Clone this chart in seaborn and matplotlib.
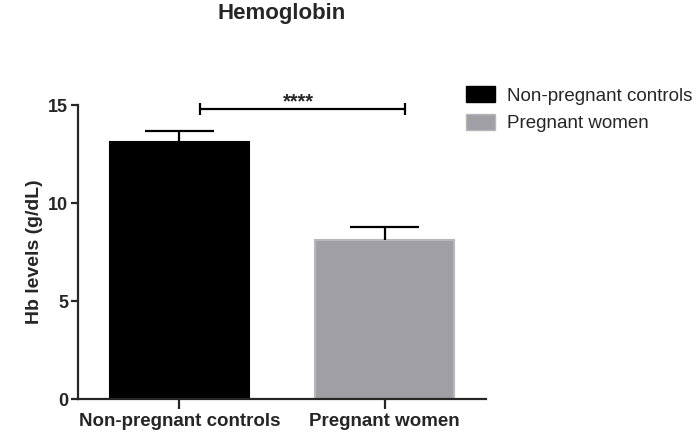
import matplotlib
matplotlib.use("Agg")
import matplotlib.pyplot as plt
import numpy as np
import pandas as pd
import seaborn as sns

# data
groups = ["Non-pregnant controls", "Pregnant women"]
hb_mean = [13.1, 8.1]
hb_sd = [0.55, 0.7]
bar_colors = ["#000000", "#a09fa5"]
edge_colors = ["#000000", "#b8b8bb"]
sig_label = "****"
sig_y = 14.8
sig_span = [0.1, 1.1]

sns.set_style("ticks")
plt.rcParams["font.family"] = ["Liberation Sans", "DejaVu Sans"]

df = pd.DataFrame({"group": groups, "hb": hb_mean})

fig = plt.figure(figsize=(7.0, 4.34), dpi=100)
ax = fig.add_axes([78 / 700, 1 - 399 / 434, 408 / 700, 294 / 434])

sns.barplot(
    data=df, x="group", y="hb", hue="group", palette=bar_colors,
    width=0.68, errorbar=None, legend=True, ax=ax, saturation=1,
)
for patch, ec in zip(ax.patches, edge_colors):
    patch.set_edgecolor(ec)
    patch.set_linewidth(1.5)

# upper-only error bars (mean + SD), GraphPad style
x_pos = np.arange(len(groups))
tops = np.array(hb_mean) + np.array(hb_sd)
ax.vlines(x_pos, hb_mean, tops, color="black", lw=1.6)
ax.hlines(tops, x_pos - 0.17, x_pos + 0.17, color="black", lw=1.6)

# significance bracket
ax.errorbar(
    sig_span, [sig_y, sig_y], yerr=[[0.3, 0.3], [0.3, 0.3]],
    color="black", lw=1.6, elinewidth=1.6, capsize=0, clip_on=False,
)
ax.text(np.mean(sig_span) - 0.02, sig_y + 0.1, sig_label, ha="center",
        va="baseline", fontsize=14.5, fontweight="bold")

ax.set_xlim(-0.495, 1.495)
ax.set_ylim(0, 15)
ax.set_yticks([0, 5, 10, 15])
ax.set_xlabel("")
ax.set_ylabel("Hb levels (g/dL)", fontsize=14, fontweight="bold", labelpad=4)
ax.tick_params(axis="y", labelsize=13, width=1.6, length=5, pad=2)
ax.tick_params(axis="x", labelsize=13.5, width=1.6, length=7, pad=3)
for lbl in ax.get_xticklabels() + ax.get_yticklabels():
    lbl.set_fontweight("bold")
sns.despine(ax=ax)
for side in ["left", "bottom"]:
    ax.spines[side].set_linewidth(1.6)

fig.text(282 / 700, 1 - 13 / 434, "Hemoglobin", ha="center", va="center",
         fontsize=16, fontweight="bold")

handles, labels = ax.get_legend_handles_labels()
for h, ec in zip(handles, edge_colors):
    h.set_edgecolor(ec)
ax.legend(
    handles, labels, loc="upper left",
    bbox_to_anchor=(457 / 700, 1 - 77 / 434), bbox_transform=fig.transFigure,
    frameon=False, fontsize=13.5, borderpad=0, handlelength=1.55,
    handleheight=0.9, handletextpad=0.6, labelspacing=0.5,
)

fig.savefig("out.png", dpi=100)
